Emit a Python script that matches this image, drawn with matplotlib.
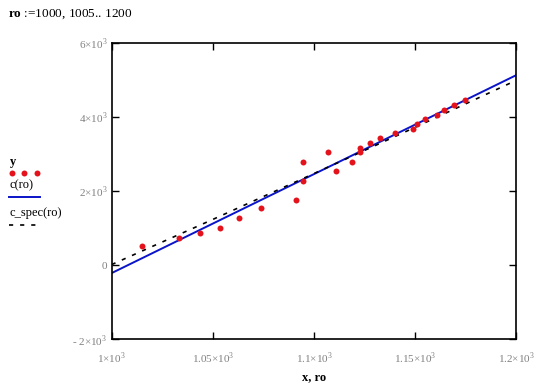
import matplotlib
matplotlib.use("Agg")
import matplotlib.pyplot as plt
from matplotlib.lines import Line2D

# ---- data ----
x_pts = [1014.8, 1033.3, 1043.6, 1053.7, 1063.0, 1073.9, 1090.9, 1094.7, 1094.7,
         1107.0, 1111.0, 1118.9, 1122.9, 1122.9, 1127.8, 1132.7, 1140.2, 1149.0,
         1151.0, 1155.0, 1161.0, 1164.0, 1169.0, 1174.6]
y_pts = [514, 748, 883, 1019, 1270, 1541, 1776, 2803, 2289,
         3073, 2560, 2803, 3181, 3073, 3316, 3452, 3587, 3695,
         3830, 3965, 4073, 4208, 4343, 4479]

ro_c = [1000, 1200]
c_vals = [-210, 5140]

ro_spec = [1000, 1050, 1100, 1150, 1200]
c_spec_vals = [20, 1240, 2480, 3730, 5000]

x_ticks = [1000, 1050, 1100, 1150, 1200]
x_tick_labels = ["1×10$^{3}$", "1.05×10$^{3}$", "1.1×10$^{3}$", "1.15×10$^{3}$", "1.2×10$^{3}$"]
y_ticks = [-2000, 0, 2000, 4000, 6000]
y_tick_labels = ["- 2×10$^{3}$", "0", "2×10$^{3}$", "4×10$^{3}$", "6×10$^{3}$"]

# ---- style ----
plt.rcParams['font.family'] = ['Liberation Serif', 'DejaVu Serif']
plt.rcParams['mathtext.fontset'] = 'custom'
plt.rcParams['mathtext.rm'] = 'Liberation Serif'
plt.rcParams['mathtext.bf'] = 'Liberation Serif:bold'
plt.rcParams['lines.scale_dashes'] = False

RED = '#e3121b'
BLUE = '#0a14c8'
GRAY = '#808080'
DASH = (0, (3.0, 5.0))

fig = plt.figure(figsize=(5.57, 3.91), dpi=100)
ax = fig.add_axes([0.2005, 0.1322, 0.7265, 0.7571])

ax.plot(ro_c, c_vals, color=BLUE, lw=1.4, zorder=2)
ax.plot(ro_spec, c_spec_vals, color='black', lw=1.2, linestyle=DASH, zorder=3)
ax.plot(x_pts, y_pts, 'o', color=RED, markersize=4.3, markeredgewidth=0, zorder=4)

ax.set_xlim(1000, 1200)
ax.set_ylim(-2000, 6000)
ax.set_xticks(x_ticks)
ax.set_xticklabels(x_tick_labels)
ax.set_yticks(y_ticks)
ax.set_yticklabels(y_tick_labels)
ax.tick_params(direction='in', length=5, width=1.0, top=True, right=True,
               labelsize=8, labelcolor=GRAY, pad=3)
ax.tick_params(axis='x', pad=8)
for s in ax.spines.values():
    s.set_linewidth(1.2)

ax.set_xlabel("x, ro", fontsize=9, fontweight='bold', labelpad=4)

# definition text
fig.text(8 / 557, 1 - 14 / 391, r"$\mathbf{ro}$ :=1000, 1005.. 1200", fontsize=9.5,
         va='center', ha='left')

# manual legend on the left
W, H = 557.0, 391.0
def fx(px):
    return px / W
def fy(py):
    return 1 - py / H

fig.text(fx(10), fy(162), "y", fontsize=9, fontweight='bold', va='center', ha='left')
fig.add_artist(Line2D([fx(11.7), fx(24.3), fx(37.3)], [fy(172.7)] * 3, linestyle='none',
                      marker='o', color=RED, markersize=4.3, markeredgewidth=0))
fig.text(fx(9), fy(185.5), "c(ro)", fontsize=9, va='center', ha='left')
fig.add_artist(Line2D([fx(9), fx(40)], [fy(197.3)] * 2, color=BLUE, lw=1.4))
fig.text(fx(9), fy(213), "c_spec(ro)", fontsize=9, va='center', ha='left')
fig.add_artist(Line2D([fx(9), fx(36)], [fy(224.5)] * 2, color='black', lw=1.2, linestyle=DASH))

fig.savefig("out.png", dpi=100)
